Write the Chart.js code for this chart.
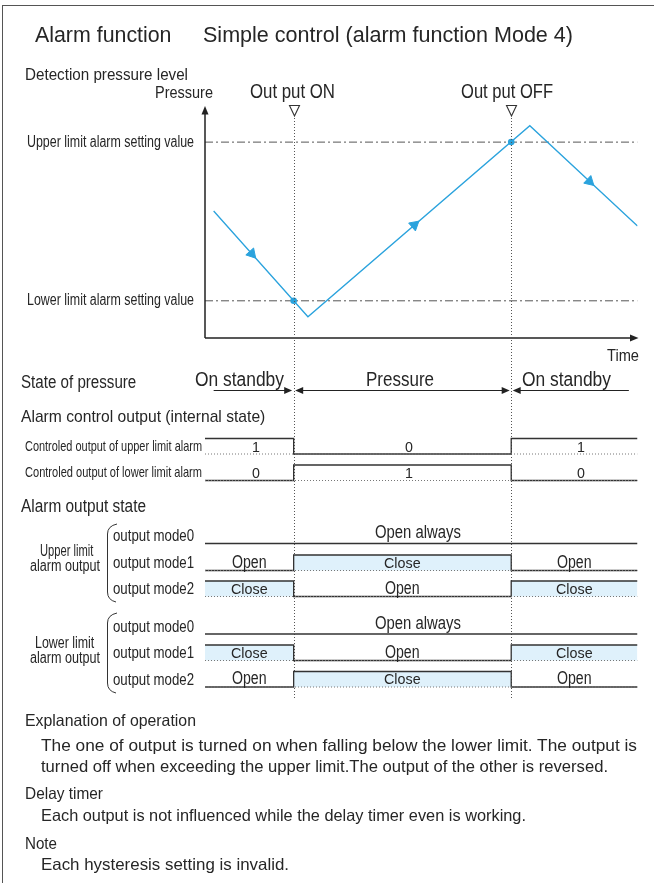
<!DOCTYPE html>
<html>
<head>
<meta charset="utf-8">
<script src="https://cdn.jsdelivr.net/npm/chart.js@4.4.1/dist/chart.umd.min.js"></script>
<style>
  body { margin: 0; background: #fff; }
  #page { position: relative; width: 654px; height: 883px; overflow: hidden; }
  #page canvas { position: absolute; left: 0; top: 0; }
  .frame { position: absolute; left: 2px; top: 5px; width: 700px; height: 900px;
           border-left: 1.5px solid #555; border-top: 1.5px solid #555; }
  .lbl { position: absolute; white-space: nowrap; line-height: 1; color: #262626;
         font-family: "Liberation Sans", Arial, sans-serif; transform-origin: 0 0; }
</style>
</head>
<body>
<div id="page">
  <div class="frame"></div>
  <canvas id="pressureChart" width="654" height="883"></canvas>
  <canvas id="timingChart" width="654" height="883"></canvas>
</div>
<script>
// ---- data (time in arbitrary units 0..100) ----
const timeMax = 100;
const pressureTime  = [2, 23.8, 75.1, 100];
const pressureValue = [55, 9.2, 91.9, 48.5];
const limitLabels = ['Lower limit alarm setting value', 'Upper limit alarm setting value'];
const limitValues = [16.1, 84.8];
const switchTimes  = [20.5, 70.8];
const switchLabels = ['Out put ON', 'Out put OFF'];
const arrowTime  = [10.8, 48.4, 88.9];
const arrowValue = [36.5, 48.9, 67.8];

const stateLabels = ['On standby', 'Pressure', 'On standby'];
const upperCtrl  = [1, 0, 1];
const lowerCtrl  = [0, 1, 0];
const upperMode0 = [0, 0, 0];
const upperMode1 = [0, 1, 0];
const upperMode2 = [1, 0, 1];
const lowerMode0 = [0, 0, 0];
const lowerMode1 = [1, 0, 1];
const lowerMode2 = [0, 1, 0];
const modeText = ['Open', 'Close'];   // level 0 = open, level 1 = close

// ---- layout ----
const BLUE = '#2ba3dd';
const FILL = '#dff1fb';
const AMP = 15.5;
const rows = [
  { name: 'Controled output of upper limit alarm', levels: upperCtrl,  base: 454,   kind: 'ctrl' },
  { name: 'Controled output of lower limit alarm', levels: lowerCtrl,  base: 480.5, kind: 'ctrl' },
  { name: 'output mode0', levels: upperMode0, base: 543.5, kind: 'always' },
  { name: 'output mode1', levels: upperMode1, base: 570.5, kind: 'mode' },
  { name: 'output mode2', levels: upperMode2, base: 596.5, kind: 'mode' },
  { name: 'output mode0', levels: lowerMode0, base: 634,   kind: 'always' },
  { name: 'output mode1', levels: lowerMode1, base: 660.5, kind: 'mode' },
  { name: 'output mode2', levels: lowerMode2, base: 687,   kind: 'mode' }
];
const edges = [0, ...switchTimes, timeMax];
const textStyle = {
  'Open': { size: 17.5, w: 34.6 }, 'Close': { size: 14.5, w: 36.6 },
  'Open always': { size: 17.5, w: 86 }, 'On standby': { size: 20, w: 89 },
  'Pressure': { size: 20, w: 68 }, '0': { size: 15, k: 0.95 }, '1': { size: 15, k: 0.95 }
};

const page = document.getElementById('page');
function label(text, x, y, size, align, w, k) {
  const el = document.createElement('div');
  el.className = 'lbl';
  el.textContent = text;
  el.style.fontSize = size + 'px';
  page.appendChild(el);
  const natural = el.getBoundingClientRect().width;
  const sx = w ? w / natural : (k || 0.86);
  const width = natural * sx;
  const left = align === 'center' ? x - width / 2 : align === 'right' ? x - width : x;
  el.style.left = left + 'px';
  el.style.top = (y - size * 0.53) + 'px';
  el.style.transform = 'scaleX(' + sx + ')';
}

function arrowHead(ctx, x, y, dx, dy, len, half) {
  ctx.beginPath();
  ctx.moveTo(x, y);
  ctx.lineTo(x - dx * len - dy * half, y - dy * len + dx * half);
  ctx.lineTo(x - dx * len + dy * half, y - dy * len - dx * half);
  ctx.closePath();
  ctx.fill();
}

// direction of the pressure line at each arrow marker
function arrowAngle(c) {
  const xs = c.chart.scales.x, ys = c.chart.scales.y;
  const t = arrowTime[c.dataIndex];
  let i = 0;
  while (i < pressureTime.length - 2 && pressureTime[i + 1] < t) i++;
  const dx = xs.getPixelForValue(pressureTime[i + 1]) - xs.getPixelForValue(pressureTime[i]);
  const dy = ys.getPixelForValue(pressureValue[i + 1]) - ys.getPixelForValue(pressureValue[i]);
  return Math.atan2(dx, -dy) * 180 / Math.PI;
}

const axesPlugin = {
  id: 'axes',
  afterDraw(chart) {
    const { ctx, chartArea: a } = chart;
    ctx.save();
    ctx.strokeStyle = '#222';
    ctx.fillStyle = '#222';
    ctx.lineWidth = 1.5;
    ctx.beginPath();
    ctx.moveTo(a.left, a.bottom); ctx.lineTo(a.left, a.top + 5);
    ctx.moveTo(a.left, a.bottom); ctx.lineTo(a.right - 5, a.bottom);
    ctx.stroke();
    arrowHead(ctx, a.left, a.top - 1, 0, -1, 8.5, 3.5);
    arrowHead(ctx, a.right + 1, a.bottom, 1, 0, 8.5, 3.5);
    ctx.restore();
  }
};

const pressureChart = new Chart(document.getElementById('pressureChart'), {
  type: 'line',
  data: {
    datasets: [
      { data: pressureTime.map((t, i) => ({ x: t, y: pressureValue[i] })),
        borderColor: BLUE, borderWidth: 1.3, pointRadius: 0 },
      { data: switchTimes.map((t, i) => ({ x: t, y: limitValues[i] })), showLine: false,
        pointRadius: 3.3, pointBackgroundColor: BLUE, pointBorderWidth: 0 },
      { data: arrowTime.map((t, i) => ({ x: t, y: arrowValue[i] })), showLine: false,
        pointStyle: 'triangle', pointRadius: 6, pointRotation: arrowAngle,
        pointBackgroundColor: BLUE, pointBorderColor: BLUE, pointBorderWidth: 1 },
      ...limitValues.map(v => ({ data: [{ x: 0, y: v }, { x: timeMax, y: v }],
        borderColor: '#555', borderWidth: 1, borderDash: [8, 3, 2, 3], pointRadius: 0 }))
    ]
  },
  options: {
    responsive: false, animation: false, events: [],
    layout: { padding: { left: 205, right: 16.5, top: 107, bottom: 883 - 338 } },
    scales: {
      x: { type: 'linear', min: 0, max: timeMax, display: false },
      y: { type: 'linear', min: 0, max: 100, display: false }
    },
    plugins: { legend: { display: false }, tooltip: { enabled: false } }
  },
  plugins: [axesPlugin]
});

const timingSets = [];
rows.forEach(r => {
  if (r.kind !== 'always') {
    timingSets.push({ data: [{ x: 0, y: r.base }, { x: timeMax, y: r.base }],
      borderColor: '#777', borderWidth: 1, borderDash: [1, 2], pointRadius: 0 });
  }
  const pts = edges.map((t, i) => ({ x: t, y: r.base - r.levels[Math.min(i, r.levels.length - 1)] * AMP }));
  timingSets.push({ data: pts, stepped: true, borderColor: '#333', borderWidth: 1.3, pointRadius: 0,
    fill: r.kind === 'mode' ? { value: r.base } : false, backgroundColor: FILL });
});

const decoPlugin = {
  id: 'deco',
  beforeDatasetsDraw(chart) {
    const { ctx } = chart;
    const xs = chart.scales.x;
    ctx.save();
    ctx.strokeStyle = '#555';
    ctx.lineWidth = 1;
    ctx.setLineDash([1, 2]);
    switchTimes.forEach(t => {
      const x = Math.round(xs.getPixelForValue(t)) + 0.5;
      ctx.beginPath(); ctx.moveTo(x, 118); ctx.lineTo(x, 700); ctx.stroke();
    });
    ctx.restore();
  },
  afterDraw(chart) {
    const { ctx } = chart;
    const xs = chart.scales.x;
    ctx.save();
    // switch markers
    ctx.strokeStyle = '#333';
    ctx.lineWidth = 1.1;
    switchTimes.forEach(t => {
      const x = Math.round(xs.getPixelForValue(t)) + 0.5;
      ctx.beginPath(); ctx.moveTo(x - 5, 105.5); ctx.lineTo(x + 5, 105.5); ctx.lineTo(x, 116); ctx.closePath(); ctx.stroke();
    });
    // state of pressure arrows
    const yS = 390.5;
    ctx.strokeStyle = '#222'; ctx.fillStyle = '#222'; ctx.lineWidth = 1.2;
    const a = xs.getPixelForValue(2), b = xs.getPixelForValue(98);
    const s = switchTimes.map(t => xs.getPixelForValue(t));
    ctx.beginPath();
    ctx.moveTo(a, yS); ctx.lineTo(s[0] - 5, yS);
    ctx.moveTo(s[0] + 5, yS); ctx.lineTo(s[1] - 5, yS);
    ctx.moveTo(s[1] + 5, yS); ctx.lineTo(b, yS);
    ctx.stroke();
    s.forEach(x => {
      arrowHead(ctx, x - 1.5, yS, 1, 0, 8, 3.5);
      arrowHead(ctx, x + 1.5, yS, -1, 0, 8, 3.5);
    });
    // braces
    ctx.strokeStyle = '#333'; ctx.lineWidth = 1;
    [[524, 602], [613, 693]].forEach(([t0, t1]) => {
      ctx.beginPath();
      ctx.moveTo(117, t0);
      ctx.quadraticCurveTo(107.5, t0 + 2, 107.5, t0 + 10);
      ctx.lineTo(107.5, t1 - 10);
      ctx.quadraticCurveTo(107.5, t1 - 2, 116, t1);
      ctx.stroke();
    });
    ctx.restore();
  }
};

const timingChart = new Chart(document.getElementById('timingChart'), {
  type: 'line',
  data: { datasets: timingSets },
  options: {
    responsive: false, animation: false, events: [],
    layout: { padding: { left: 205, right: 16.5, top: 0, bottom: 0 } },
    scales: {
      x: { type: 'linear', min: 0, max: timeMax, display: false },
      y: { type: 'linear', min: 0, max: 883, reverse: true, display: false }
    },
    plugins: { legend: { display: false }, tooltip: { enabled: false } }
  },
  plugins: [decoPlugin]
});

// ---- text ----
label('Alarm function', 35, 36, 21.5, 'left', 136.5);
label('Simple control (alarm function Mode 4)', 203, 36, 21.5, 'left', 370);
label('Detection pressure level', 25, 75, 16, 'left', 163);
label('Pressure', 213.3, 93, 17, 'right', 58);
label('Time', 638.5, 356, 17, 'right', 32);

const px = pressureChart.scales.x, py = pressureChart.scales.y;
switchLabels.forEach((s, i) => label(s, px.getPixelForValue(switchTimes[i]) - (i ? 4 : 1), 92, 19.5, 'center', i ? 92 : 85));
limitLabels.forEach((s, i) => label(s, 194, py.getPixelForValue(limitValues[i]), 16, 'right', 167));

label('State of pressure', 20.7, 383.3, 17.5, 'left', 115.3);
label('Alarm control output (internal state)', 20.7, 417.5, 17, 'left', 244.3);
label('Alarm output state', 20.7, 507.3, 17.5, 'left', 125);
label('Upper limit', 66.7, 551.5, 16, 'center', 53.3);
label('alarm output', 65, 566.7, 16, 'center', 70);
label('Lower limit', 64.7, 643.3, 16, 'center', 59.3);
label('alarm output', 65, 658.3, 16, 'center', 70);

const tx = timingChart.scales.x;
const stateDx = [-10, -2, -8];
stateLabels.forEach((s, i) => {
  const st = textStyle[s];
  label(s, tx.getPixelForValue((edges[i] + edges[i + 1]) / 2) + stateDx[i], 380, st.size, 'center', st.w);
});

rows.forEach(r => {
  if (r.kind === 'ctrl') label(r.name, 201.7, r.base - 7.5, 14.5, 'right', 177);
  else label(r.name, 113.3, r.base - 7, 17, 'left', 81);
  if (r.kind === 'always') {
    const st = textStyle['Open always'];
    label('Open always', tx.getPixelForValue(timeMax / 2) - 3, r.base - 10, st.size, 'center', st.w);
    return;
  }
  r.levels.forEach((lv, i) => {
    const s = r.kind === 'ctrl' ? String(lv) : modeText[lv];
    const st = textStyle[s];
    const dx = r.kind === 'ctrl' ? 7 : 0;
    const cx = tx.getPixelForValue((edges[i] + edges[i + 1]) / 2) + dx;
    label(s, cx, r.base - AMP / 2 + 0.5, st.size, 'center', st.w, st.k);
  });
});

label('Explanation of operation', 25, 721, 16.5, 'left', 171);
label('The one of output is turned on when falling below the lower limit. The output is', 41, 746, 16.5, 'left', 596);
label('turned off when exceeding the upper limit.The output of the other is reversed.', 41, 767, 16.5, 'left', 567);
label('Delay timer', 25, 794, 16.5, 'left', 78);
label('Each output is not influenced while the delay timer even is working.', 41, 816, 16.5, 'left', 485);
label('Note', 25, 843.5, 16.5, 'left', 32);
label('Each hysteresis setting is invalid.', 41, 864.5, 16.5, 'left', 248);
</script>
</body>
</html>
